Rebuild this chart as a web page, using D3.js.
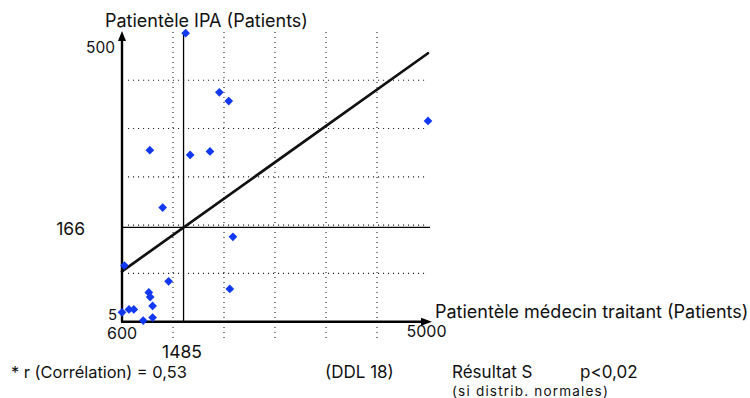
<!DOCTYPE html>
<html>
<head>
<meta charset="utf-8">
<script src="https://cdn.jsdelivr.net/npm/d3@7"></script>
<style>
  html, body { margin: 0; padding: 0; background: #fff; }
  svg { display: block; font-family: Inter, "Liberation Sans", sans-serif; }
</style>
</head>
<body>
<svg id="chart" width="750" height="398"></svg>
<script>
// Patientèle médecin traitant (x) vs patientèle IPA (y), one entry per practice
const medecinPatients = [1515, 2000, 2135, 5000, 1000, 1580, 1865, 1185, 2195, 635,
                         1270, 2150, 985, 1005, 1040, 600, 700, 770, 905, 1040];
const ipaPatients     = [498, 397, 382, 348, 298, 290, 296, 200, 150, 101,
                         74, 61, 55, 47, 32, 21, 26, 26, 7, 12];

const xTickValues = [600, 1485, 5000];
const yTickValues = [5, 166, 500];
const meanMedecin = 1485;
const meanIpa = 166;
const regressionSlope = 0.0847;   // patients IPA per patient médecin

const xTitle = "Patientèle médecin traitant (Patients)";
const yTitle = "Patientèle IPA (Patients)";
const statLines = ["* r (Corrélation) = 0,53", "(DDL 18)", "Résultat S", "p<0,02", "(si distrib. normales)"];

const svg = d3.select("#chart");

const x = d3.scaleLinear().domain([600, 5000]).range([122, 428]);
const y = d3.scaleLinear().domain([5, 500]).range([321.7, 32]);

// dotted reference grid: six divisions on each axis
const xGrid = d3.range(1, 6).map(i => 600 + i * (5000 - 600) / 6);
const yGrid = d3.range(1, 6).map(i => 5 + i * (500 - 5) / 6);

const grid = svg.append("g")
  .attr("stroke", "#222")
  .attr("stroke-width", 1.1)
  .attr("stroke-dasharray", "1.1,3.9");
grid.selectAll("line.v").data(xGrid).join("line")
  .attr("class", "v")
  .attr("x1", d => x(d)).attr("x2", d => x(d))
  .attr("y1", y(500)).attr("y2", y(5) + 19);
grid.selectAll("line.h").data(yGrid).join("line")
  .attr("class", "h")
  .attr("x1", x(600) + 6).attr("x2", x(5000))
  .attr("y1", d => y(d)).attr("y2", d => y(d));

// mean lines
svg.append("line")
  .attr("x1", x(meanMedecin)).attr("x2", x(meanMedecin))
  .attr("y1", y(5)).attr("y2", y(500))
  .attr("stroke", "#000").attr("stroke-width", 1.3);
svg.append("line")
  .attr("x1", x(600)).attr("x2", x(5000) + 2)
  .attr("y1", y(meanIpa)).attr("y2", y(meanIpa))
  .attr("stroke", "#000").attr("stroke-width", 1.3);

// regression line through the means
const fit = v => meanIpa + regressionSlope * (v - meanMedecin);
svg.append("line")
  .attr("x1", x(600)).attr("y1", y(fit(600)))
  .attr("x2", x(5000)).attr("y2", y(fit(5000)))
  .attr("stroke", "#111").attr("stroke-width", 2.7)
  .attr("stroke-linecap", "round");

// axes with arrow heads
const axes = svg.append("g");
axes.append("line")
  .attr("x1", x(600)).attr("y1", y(5))
  .attr("x2", x(600)).attr("y2", y(500) + 6)
  .attr("stroke", "#000").attr("stroke-width", 2.4);
axes.append("path")
  .attr("d", d3.line()([[x(600) - 4, y(500) + 9], [x(600), y(500) - 1], [x(600) + 4, y(500) + 9]]) + "Z")
  .attr("fill", "#000");
axes.append("line")
  .attr("x1", x(600) - 1).attr("y1", y(5))
  .attr("x2", x(5000) - 4).attr("y2", y(5))
  .attr("stroke", "#000").attr("stroke-width", 2.4);
axes.append("path")
  .attr("d", d3.line()([[x(5000) - 7, y(5) - 4], [x(5000) + 4, y(5)], [x(5000) - 7, y(5) + 4]]) + "Z")
  .attr("fill", "#000");

// points
svg.append("g").selectAll("path").data(medecinPatients).join("path")
  .attr("transform", (d, i) => `translate(${x(d)},${y(ipaPatients[i])}) rotate(45)`)
  .attr("d", d3.symbol(d3.symbolSquare, 38))
  .attr("fill", "#1238f2");

// tick labels
const lab = svg.append("g").attr("fill", "#111");
const yLabelStyle = { 5: { x: 117, dy: -2, size: 15 }, 166: { x: 85, dy: 7.5, size: 17.5 }, 500: { x: 115, dy: 20.5, size: 15.5 } };
lab.selectAll("text.y").data(yTickValues).join("text")
  .attr("class", "y")
  .attr("text-anchor", "end")
  .attr("x", d => yLabelStyle[d].x)
  .attr("y", d => y(d) + yLabelStyle[d].dy)
  .attr("font-size", d => yLabelStyle[d].size)
  .text(d => d);
const xLabelStyle = { 600: { dx: -15, dy: 17, size: 16, anchor: "start" },
                      1485: { dx: -1.5, dy: 36.6, size: 17.5, anchor: "middle" },
                      5000: { dx: -1.5, dy: 15, size: 16, anchor: "middle" } };
lab.selectAll("text.x").data(xTickValues).join("text")
  .attr("class", "x")
  .attr("text-anchor", d => xLabelStyle[d].anchor)
  .attr("x", d => x(d) + xLabelStyle[d].dx)
  .attr("y", d => y(5) + xLabelStyle[d].dy)
  .attr("font-size", d => xLabelStyle[d].size)
  .text(d => d);

// axis titles
svg.append("text").attr("x", 105).attr("y", 27)
  .attr("font-size", 18).attr("fill", "#111").text(yTitle);
svg.append("text").attr("x", 435).attr("y", 318)
  .attr("font-size", 18).attr("fill", "#111").text(xTitle);

// statistics
const stats = svg.append("g").attr("fill", "#111").attr("font-size", 17);
stats.append("text").attr("x", 11).attr("y", 378).attr("font-size", 16.4).text(statLines[0]);
stats.append("text").attr("x", 325).attr("y", 378).text(statLines[1]);
stats.append("text").attr("x", 452).attr("y", 378).text(statLines[2]);
stats.append("text").attr("x", 580).attr("y", 378).text(statLines[3]);
stats.append("text").attr("x", 452).attr("y", 396)
  .attr("font-size", 13.5).attr("letter-spacing", 1.2).text(statLines[4]);
</script>
</body>
</html>
